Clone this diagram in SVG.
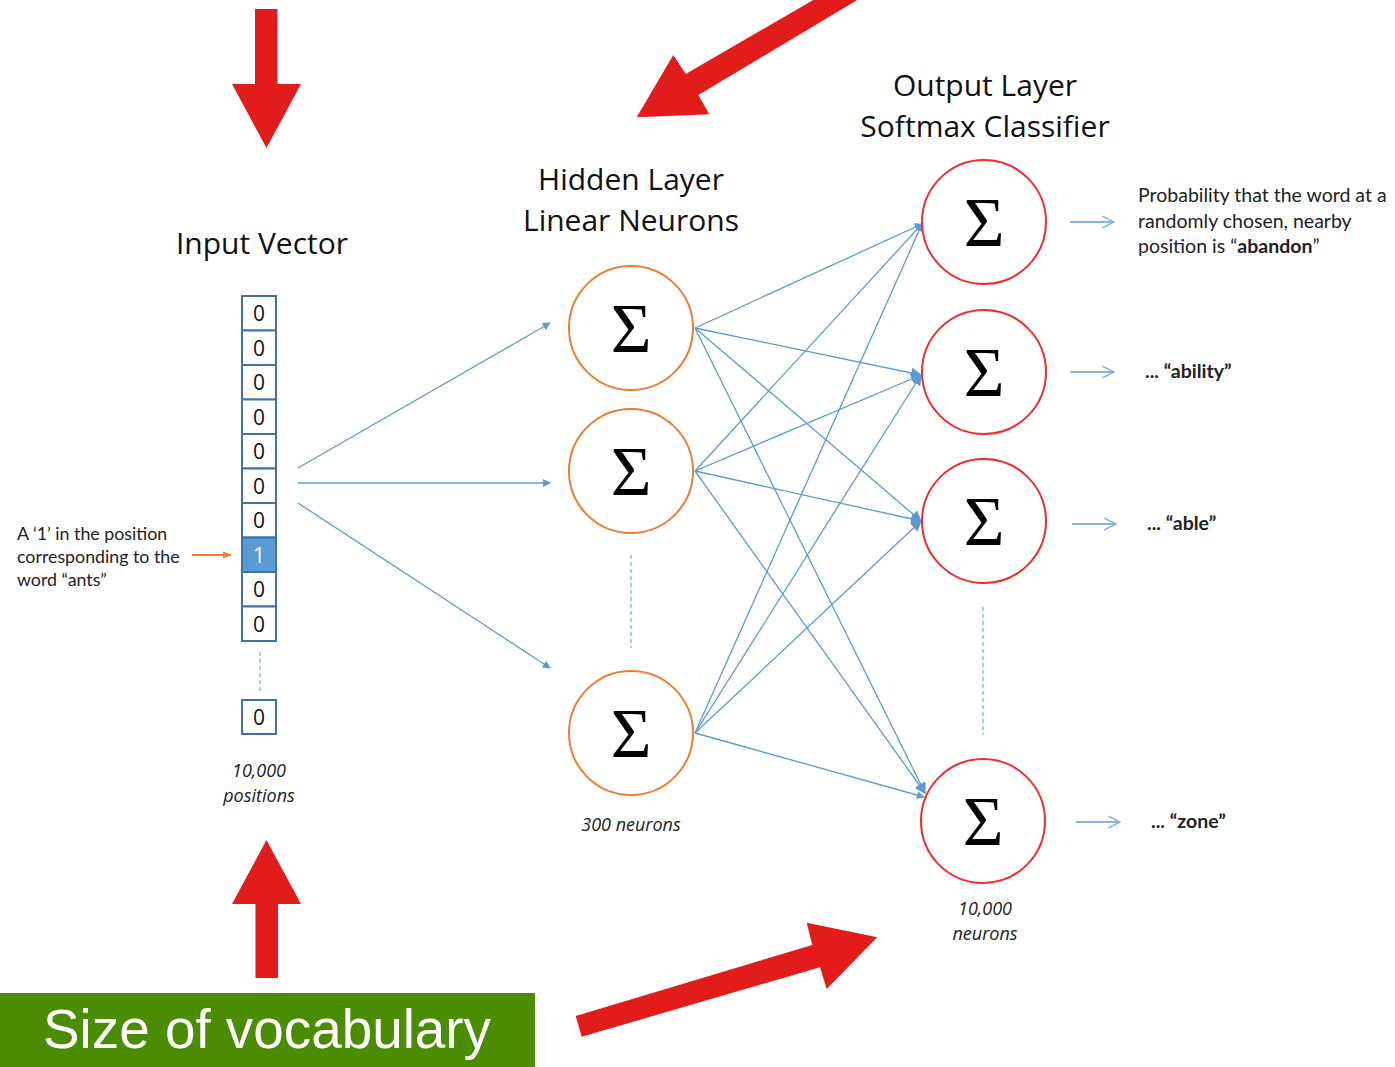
<svg xmlns="http://www.w3.org/2000/svg" width="1395" height="1067" viewBox="0 0 1395 1067">
  <defs>
    <marker id="tri" viewBox="0 0 10 10" refX="9" refY="5" markerWidth="8" markerHeight="8" markerUnits="userSpaceOnUse" orient="auto">
      <path d="M0,0 L10,5 L0,10 Z" fill="#5b9bd5"/>
    </marker>
    <marker id="triBig" viewBox="0 0 10 10" refX="9" refY="5" markerWidth="11" markerHeight="11" markerUnits="userSpaceOnUse" orient="auto">
      <path d="M0,0 L10,5 L0,10 Z" fill="#5b9bd5"/>
    </marker>
    <marker id="openHead" viewBox="0 0 12 12" refX="11" refY="6" markerWidth="14" markerHeight="14" markerUnits="userSpaceOnUse" orient="auto">
      <path d="M1,1 L11,6 L1,11" fill="none" stroke="#7fb0e0" stroke-width="1.3"/>
    </marker>
    <marker id="orangeHead" viewBox="0 0 10 10" refX="9" refY="5" markerWidth="9" markerHeight="9" markerUnits="userSpaceOnUse" orient="auto">
      <path d="M0,1 L10,5 L0,9 Z" fill="#ed7d31"/>
    </marker>
  </defs>
  <style>
    .title { font-family: "Open Sans", "Noto Sans", sans-serif; font-size: 30px; fill: #111; text-anchor: middle; }
    .sigma { font-family: "Liberation Serif", "DejaVu Serif", serif; font-size: 70px; fill: #000; text-anchor: middle; }
    .hid { fill: #fff; stroke: #ed7d31; stroke-width: 2; }
    .out { fill: #fff; stroke: #f22b2b; stroke-width: 2; }
    .cell { fill: #fff; stroke: #3f73a8; stroke-width: 2; }
    .cellOn { fill: #5b9bd5; stroke: #3f73a8; stroke-width: 2; }
    .digit { font-family: "Open Sans", "Noto Sans", sans-serif; font-size: 21px; fill: #111; text-anchor: middle; }
    .note { font-family: "Lato", "Open Sans", sans-serif; font-size: 17.8px; fill: #222; }
    .rnote { font-family: "Lato", "Open Sans", sans-serif; font-size: 19.5px; fill: #222; }
    .cap { font-family: "Open Sans", "Noto Sans", sans-serif; font-size: 18px; font-style: italic; fill: #222; text-anchor: middle; }
    .wire { stroke: #5b9bd5; stroke-width: 1.3; fill: none; }
    .dots { stroke: #7fb0e0; stroke-width: 1.3; stroke-dasharray: 4 3; fill: none; }
    .bigArrow { fill: #e21c1a; }
  </style>

  <!-- red highlight arrows -->
  <g id="red-arrows">
    <polygon class="bigArrow" points="255,9 277.5,9 277.5,84 301,84 266.5,148 232,84 255,84"/>
    <polygon class="bigArrow" points="255.5,978 278,978 278,904 301,904 266.5,840 232,904 255.5,904"/>
    <polygon class="bigArrow" points="636.7,117.3 673.3,55 685.7,74 813.3,0 857.3,0 698.3,95 709.3,114.3"/>
    <polygon class="bigArrow" points="575.7,1016 812.3,945 806.7,922.7 877.3,937.3 826.7,989 820,967.3 581.7,1036.7"/>
  </g>

  <!-- vocabulary banner -->
  <g id="vocab-label">
    <rect x="0" y="993" width="535" height="74" fill="#4b8c00"/>
    <text x="43" y="1048" font-family="Liberation Sans, Arial, sans-serif" font-size="56" fill="#fff" textLength="448" lengthAdjust="spacingAndGlyphs">Size of vocabulary</text>
  </g>

  <!-- titles -->
  <g id="titles">
    <text class="title" x="262" y="254">Input Vector</text>
    <text class="title" x="631" y="190">Hidden Layer</text>
    <text class="title" x="631" y="231">Linear Neurons</text>
    <text class="title" x="985" y="96">Output Layer</text>
    <text class="title" x="985" y="137">Softmax Classifier</text>
  </g>

  <!-- connectors -->
  <g id="connectors">
    <!-- input to hidden -->
    <line class="wire" x1="298" y1="468" x2="550" y2="323" marker-end="url(#tri)"/>
    <line class="wire" x1="298" y1="483" x2="550" y2="483" marker-end="url(#tri)"/>
    <line class="wire" x1="298" y1="503" x2="550" y2="668" marker-end="url(#tri)"/>
    <!-- hidden to output -->
    <line class="wire" x1="695" y1="328" x2="922" y2="224" marker-end="url(#tri)"/>
    <line class="wire" x1="695" y1="328" x2="921" y2="375" marker-end="url(#triBig)"/>
    <line class="wire" x1="695" y1="328" x2="921" y2="521" marker-end="url(#triBig)"/>
    <line class="wire" x1="695" y1="328" x2="925" y2="793" marker-end="url(#triBig)"/>
    <line class="wire" x1="695" y1="471" x2="922" y2="224" marker-end="url(#tri)"/>
    <line class="wire" x1="695" y1="471" x2="921" y2="375" marker-end="url(#triBig)"/>
    <line class="wire" x1="695" y1="471" x2="921" y2="521" marker-end="url(#triBig)"/>
    <line class="wire" x1="695" y1="471" x2="925" y2="793" marker-end="url(#triBig)"/>
    <line class="wire" x1="695" y1="733" x2="922" y2="224" marker-end="url(#tri)"/>
    <line class="wire" x1="695" y1="733" x2="921" y2="375" marker-end="url(#triBig)"/>
    <line class="wire" x1="695" y1="733" x2="921" y2="521" marker-end="url(#triBig)"/>
    <line class="wire" x1="695" y1="733" x2="924" y2="797" marker-end="url(#tri)"/>
    <!-- output to labels -->
    <line class="wire" x1="1070" y1="222" x2="1114" y2="222" stroke="#7fb0e0" marker-end="url(#openHead)"/>
    <line class="wire" x1="1070" y1="372" x2="1114" y2="372" stroke="#7fb0e0" marker-end="url(#openHead)"/>
    <line class="wire" x1="1072" y1="524" x2="1116" y2="524" stroke="#7fb0e0" marker-end="url(#openHead)"/>
    <line class="wire" x1="1076" y1="822" x2="1120" y2="822" stroke="#7fb0e0" marker-end="url(#openHead)"/>
    <!-- pointer to the active cell -->
    <line x1="192" y1="555" x2="231" y2="555" stroke="#ed7d31" stroke-width="2" marker-end="url(#orangeHead)"/>
    <!-- ellipsis lines -->
    <line class="dots" x1="260" y1="652" x2="260" y2="693"/>
    <line class="dots" x1="631" y1="555" x2="631" y2="648"/>
    <line class="dots" x1="983" y1="607" x2="983" y2="735"/>
  </g>

  <!-- one-hot input vector -->
  <g id="input-vector">
    <rect class="cell" x="242" y="296" width="34" height="34.5"/>
    <text class="digit" x="259" y="321">0</text>
    <rect class="cell" x="242" y="330.5" width="34" height="34.5"/>
    <text class="digit" x="259" y="355.5">0</text>
    <rect class="cell" x="242" y="365" width="34" height="34.5"/>
    <text class="digit" x="259" y="390">0</text>
    <rect class="cell" x="242" y="399.5" width="34" height="34.5"/>
    <text class="digit" x="259" y="424.5">0</text>
    <rect class="cell" x="242" y="434" width="34" height="34.5"/>
    <text class="digit" x="259" y="459">0</text>
    <rect class="cell" x="242" y="468.5" width="34" height="34.5"/>
    <text class="digit" x="259" y="493.5">0</text>
    <rect class="cell" x="242" y="503" width="34" height="34.5"/>
    <text class="digit" x="259" y="528">0</text>
    <rect class="cellOn" x="242" y="537.5" width="34" height="34.5"/>
    <text class="digit" x="259" y="562.5" style="fill:#fff">1</text>
    <rect class="cell" x="242" y="572" width="34" height="34.5"/>
    <text class="digit" x="259" y="597">0</text>
    <rect class="cell" x="242" y="606.5" width="34" height="34.5"/>
    <text class="digit" x="259" y="631.5">0</text>
    <rect class="cell" x="242" y="700" width="34" height="34"/>
    <text class="digit" x="259" y="725">0</text>
    <text class="cap" x="259" y="777">10,000</text>
    <text class="cap" x="259" y="802">positions</text>
  </g>

  <g id="input-note">
    <text class="note" x="17" y="540">A ‘1’ in the position</text>
    <text class="note" x="17" y="563">corresponding to the</text>
    <text class="note" x="17" y="586">word “ants”</text>
  </g>

  <!-- hidden layer -->
  <g id="hidden-1">
    <circle class="hid" cx="631" cy="328" r="62"/>
    <text class="sigma" x="631" y="352">Σ</text>
  </g>
  <g id="hidden-2">
    <circle class="hid" cx="631" cy="471" r="62"/>
    <text class="sigma" x="631" y="495">Σ</text>
  </g>
  <g id="hidden-300">
    <circle class="hid" cx="631" cy="733" r="62"/>
    <text class="sigma" x="631" y="757">Σ</text>
    <text class="cap" x="631" y="831">300 neurons</text>
  </g>

  <!-- output layer -->
  <g id="output-abandon">
    <circle class="out" cx="984" cy="222" r="62"/>
    <text class="sigma" x="984" y="246">Σ</text>
    <text class="rnote" x="1138" y="202">Probability that the word at a</text>
    <text class="rnote" x="1138" y="228">randomly chosen, nearby</text>
    <text class="rnote" x="1138" y="253">position is “<tspan font-weight="bold">abandon</tspan>”</text>
  </g>
  <g id="output-ability">
    <circle class="out" cx="984" cy="372" r="62"/>
    <text class="sigma" x="984" y="396">Σ</text>
    <text class="rnote" x="1145" y="378" font-weight="bold">... “ability”</text>
  </g>
  <g id="output-able">
    <circle class="out" cx="984" cy="521" r="62"/>
    <text class="sigma" x="984" y="545">Σ</text>
    <text class="rnote" x="1147" y="530" font-weight="bold">... “able”</text>
  </g>
  <g id="output-zone">
    <circle class="out" cx="983" cy="821" r="62"/>
    <text class="sigma" x="983" y="845">Σ</text>
    <text class="rnote" x="1151" y="828" font-weight="bold">... “zone”</text>
    <text class="cap" x="985" y="915">10,000</text>
    <text class="cap" x="985" y="940">neurons</text>
  </g>
</svg>
